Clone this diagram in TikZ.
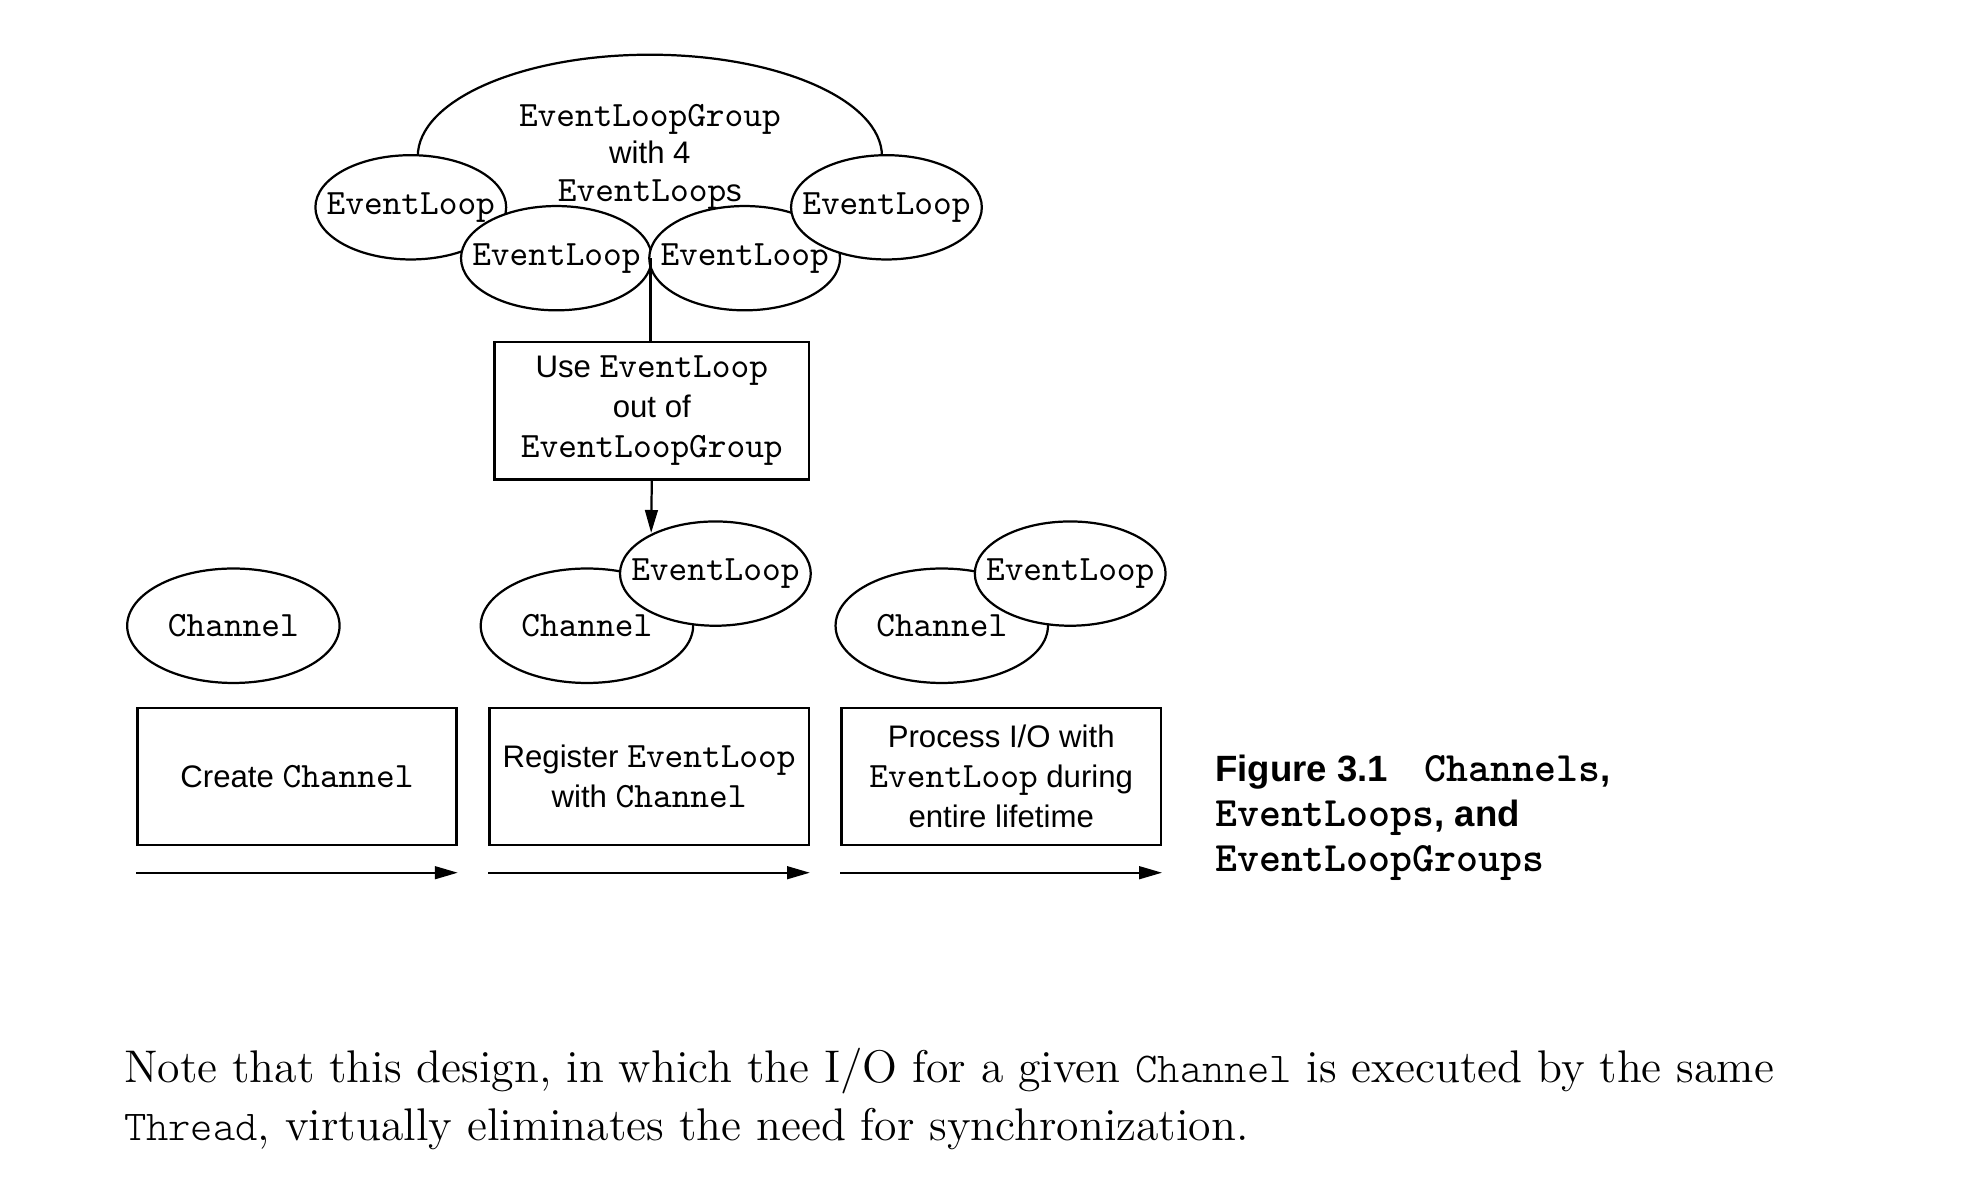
\documentclass[tikz,border=0pt]{standalone}
\usepackage{fontspec}
\setsansfont{Liberation Sans}
\setmonofont[Scale=1.143, BoldFont=lmmonolt10-bold.otf]{lmmono10-regular.otf}
\newfontfamily\bodymono[Scale=1.143]{lmmonolt10-regular.otf}
\usepackage{xcolor}
\usepackage{tikz}
\usetikzlibrary{arrows.meta, positioning, shapes.geometric, calc}
\definecolor{figcolor0}{HTML}{FFFFFF}
\definecolor{figcolor1}{HTML}{000000}
\newcommand{\code}[1]{\texttt{#1}}
\newcommand{\inshape}[1]{\makebox[0pt]{#1}}
\newcommand{\bodycode}[1]{{\bodymono\fontsize{11.7}{18.4}\selectfont #1}}
\tikzset{
  loop_ellipse/.style={ellipse, draw=figcolor1, fill=figcolor0, text=figcolor1, line width=0.7pt, minimum width=60pt, minimum height=32.8pt, inner sep=0pt, font=\sffamily\fontsize{9.8}{11.8}\selectfont},
  channel_ellipse/.style={loop_ellipse, minimum width=66.8pt, minimum height=36pt},
  group_ellipse/.style={loop_ellipse, minimum width=146pt, minimum height=64pt, align=center},
  step_box/.style={rectangle, draw=figcolor1, fill=figcolor0, line width=0.75pt, minimum width=100.4pt, minimum height=43pt, inner sep=0pt, align=center, font=\sffamily\fontsize{9.8}{12.6}\selectfont},
  link_line/.style={draw=figcolor1, line width=0.7pt},
  flow_arrow/.style={link_line, -{Triangle[length=7.2pt, width=4pt]}},
  caption_text/.style={anchor=west, align=left, inner sep=0pt, font=\fontsize{11.5}{14.2}\selectfont},
  body_text/.style={anchor=base west, inner sep=0pt, font=\fontsize{14.4}{18.4}\selectfont}
}
\begin{document}
\begin{tikzpicture}[x=0.4pt, y=-0.4pt]
\useasboundingbox (0,0) rectangle (1560,929);
% group with its four loops
\node[group_ellipse] (group_node) at (511,123) {\code{EventLoopGroup}\\ with 4\\ \code{EventLoop}s};
\node[loop_ellipse] (loop_a) at (323,163) {\inshape{\code{EventLoop}}};
\node[loop_ellipse] (loop_b) at (437.5,203) {\inshape{\code{EventLoop}}};
\node[loop_ellipse] (loop_c) at (585.5,203) {\inshape{\code{EventLoop}}};
\node[loop_ellipse] (loop_d) at (697,163) {\inshape{\code{EventLoop}}};
\coordinate (loop_join) at ($(loop_b.east)!0.5!(loop_c.west)$);
\node[step_box, minimum width=99pt, minimum height=43.2pt] (use_box) at (512.5,323) {Use \code{EventLoop}\\ out of\\ \code{EventLoopGroup}};
\draw[link_line] (loop_join) -- (use_box.north -| loop_join);
% channels
\node[channel_ellipse] (chan_create) at (183.5,492) {\inshape{\code{Channel}}};
\node[channel_ellipse] (chan_register) at (461.5,492) {\inshape{\code{Channel}}};
\node[loop_ellipse] (loop_register) at (562.5,451) {\inshape{\code{EventLoop}}};
\node[channel_ellipse] (chan_process) at (740.5,492) {\inshape{\code{Channel}}};
\node[loop_ellipse] (loop_process) at (841.5,451) {\inshape{\code{EventLoop}}};
\coordinate (register_entry) at (512,419);
\draw[flow_arrow] (use_box.south) -- (register_entry);
% steps
\node[step_box] (create_box) at (233.5,610.5) {Create \code{Channel}};
\node[step_box, right=9.6pt of create_box] (register_box) {Register \code{EventLoop}\\ with \code{Channel}};
\node[step_box, right=9.6pt of register_box] (process_box) {Process I/O with\\ \code{EventLoop} during\\ entire lifetime};
\draw[flow_arrow] ([yshift=-8.4pt]create_box.south west) -- ([yshift=-8.4pt]create_box.south east);
\draw[flow_arrow] ([yshift=-8.4pt]register_box.south west) -- ([yshift=-8.4pt]register_box.south east);
\draw[flow_arrow] ([yshift=-8.4pt]process_box.south west) -- ([yshift=-8.4pt]process_box.south east);
% caption
\node[caption_text] (caption_node) at (955,643) {{\sffamily\bfseries Figure 3.1}\hspace{1em}{\ttfamily\bfseries Channels}{\sffamily\bfseries ,}\\ {\ttfamily\bfseries EventLoops}{\sffamily\bfseries , and}\\ {\ttfamily\bfseries EventLoopGroups}};
% running text
\node[body_text] (body_line_a) at (97,851) {Note that this design, in which the I/O for a given \bodycode{Channel} is executed by the same};
\node[body_text] (body_line_b) at ([yshift=-18.4pt]body_line_a.base west) {\bodycode{Thread}, virtually eliminates the need for synchronization.};
\end{tikzpicture}
\end{document}
